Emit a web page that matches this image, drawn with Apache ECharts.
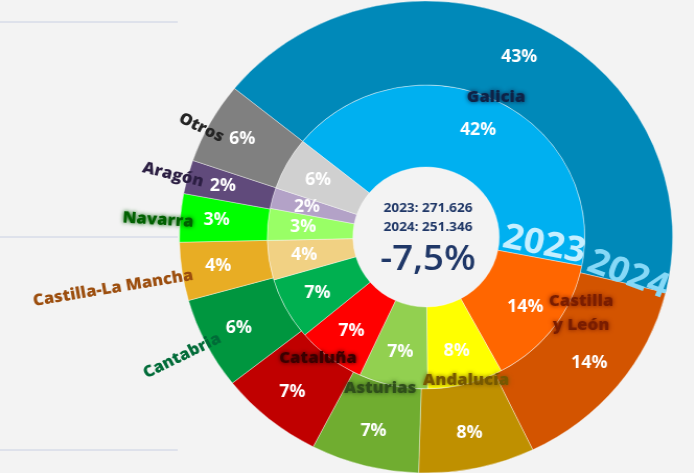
<!DOCTYPE html>
<html><head><meta charset="utf-8">
<style>html,body{margin:0;padding:0;background:#f3f3f3;overflow:hidden}
#wrap{width:694px;height:473px;overflow:hidden}
#c{width:664px;height:473px;transform:scaleX(1.045);transform-origin:0 0}</style>
<script src="https://cdn.jsdelivr.net/npm/echarts@6/dist/echarts.min.js"></script>
</head><body><div id="wrap"><div id="c"></div></div>
<script>
// ---- data ----
const regions = ['Galicia','Castilla y León','Andalucía','Asturias','Cataluña','Cantabria','Castilla-La Mancha','Navarra','Aragón','Otros'];
const regionLabels = ['Galicia','Castilla\ny León','Andalucía','Asturias','Cataluña','Cantabria','Castilla-La Mancha','Navarra','Aragón','Otros'];
const values2023 = [114.6, 38.3, 20.9, 19.0, 19.0, 17.9, 11.4, 9.2, 6.0, 15.2];
const values2024 = [107.9, 35.4, 19.1, 17.8, 17.1, 15.8, 10.0, 8.3, 5.8, 14.0];
const centerLines = ['2023: 271.626', '2024: 251.346'];
const changeText = '-7,5%';
const yearNames = ['2023', '2024'];

// ---- styles ----
const colors2023 = ['#00b0f0','#ff6600','#ffff00','#92d050','#ff0000','#00b050','#f1d183','#99ff66','#b3a2c7','#d0d0d0'];
const colors2024 = ['#0089b9','#d35400','#bf9000','#70ad30','#c00000','#00963f','#e8ad24','#00ff00','#604a7b','#808080'];
const nameColors = ['#0f2246','#7a1d00','#765800','#2f4f1a','#3a0000','#006b38','#9c4e0e','#006000','#2b1e42','#242424'];
// [radius, angle offset (deg), radial rotation, glow]
const namePlace = [[155.2,0.7,false,true],[166.7,11.9,false,true],[148,3.05,false,true],[157.3,-1.7,false,true],[159.1,-1.0,false,true],
                   [262,0.1,true,false],[303.8,1.3,true,false],[257,0.9,true,true],[250,0.4,true,false],[241.3,2.05,true,false]];
const CX = 407.7, CY = 237, START = 141;
const R_HOLE = 70, R_MID = 152, R_OUT = 236, LABEL_SHIFT = 8;
const FONT = '"Open Sans", sans-serif';

const chart = echarts.init(document.getElementById('c'), null, {renderer:'canvas'});

function mk(vals, cols){ return regions.map((n,i)=>({name:n, value:vals[i], itemStyle:{color:cols[i]}})); }
const pctLabel = {show:true, position:'inside', formatter: p => Math.round(p.percent) + '%',
  color:'#fff', fontWeight:'bold', fontSize:17, fontFamily:FONT, textBorderWidth:0, textShadowBlur:0};

const tot24 = values2024.reduce((a,b)=>a+b,0);
let acc = 0;
const graphics = [];
regions.forEach((n,i)=>{
  const mid = START - (acc + values2024[i]/2)/tot24*360;
  acc += values2024[i];
  const [r, off, radial, glow] = namePlace[i];
  let a = mid + off;
  while (a > 180) a -= 360; while (a <= -180) a += 360;
  const rad = a*Math.PI/180;
  let rot = 0;
  if (radial) rot = a > 90 ? a - 180 : (a < -90 ? a + 180 : a);
  graphics.push({type:'text', x: CX + r*Math.cos(rad), y: CY - r*Math.sin(rad), rotation: rot*Math.PI/180, z: 100,
    style:{text: regionLabels[i], fill: nameColors[i], font:'800 16px ' + FONT, align:'center', verticalAlign:'middle',
      lineHeight: 24, textShadowColor: glow ? nameColors[i] : 'transparent', textShadowBlur: glow ? 4 : 0}});
});
[22, 237, 450].forEach(y => graphics.push({type:'line', z:-1, shape:{x1:0,y1:y,x2:170,y2:y}, style:{stroke:'#c9d0e3', lineWidth:1}}));
graphics.push({type:'text', x:520.6, y:245, rotation:-11.5*Math.PI/180, z:100, style:{text:yearNames[0], fill:'#c6efff', font:'bold 35px ' + FONT, align:'center', verticalAlign:'middle'}});
graphics.push({type:'text', x:601, y:275, rotation:-20.8*Math.PI/180, z:100, style:{text:yearNames[1], fill:'#86d9f7', font:'bold 35px ' + FONT, align:'center', verticalAlign:'middle'}});
graphics.push({type:'text', x:409.6, y:208, z:100, style:{text:centerLines[0], fill:'#1f3767', font:'bold 13px ' + FONT, align:'center', verticalAlign:'middle'}});
graphics.push({type:'text', x:409.6, y:227, z:100, style:{text:centerLines[1], fill:'#1f3767', font:'bold 13px ' + FONT, align:'center', verticalAlign:'middle'}});
graphics.push({type:'text', x:409.6, y:260, z:100, style:{text:changeText, fill:'#1f3767', font:'600 35px ' + FONT, align:'center', verticalAlign:'middle'}});

const base = {type:'pie', center:[CX, CY], startAngle: START, clockwise:true, avoidLabelOverlap:false, silent:true,
  labelLine:{show:false}, emphasis:{disabled:true}};
const ringStyle = {itemStyle:{borderColor:'rgba(255,255,255,0.55)', borderWidth:0.7}, label:{show:false}};
const labelStyle = {itemStyle:{color:'transparent', borderWidth:0}, label: pctLabel, z: 5};

chart.setOption({
  backgroundColor:'#f3f3f3',
  animation:false,
  series:[
    Object.assign({}, base, ringStyle, {name:yearNames[0], radius:[R_HOLE, R_MID], data: mk(values2023, colors2023)}),
    Object.assign({}, base, ringStyle, {name:yearNames[1], radius:[R_MID, R_OUT], data: mk(values2024, colors2024)}),
    Object.assign({}, base, labelStyle, {name:yearNames[0] + ' %', radius:[R_HOLE + LABEL_SHIFT, R_MID],
      data: regions.map((n,i)=>({name:n, value:values2023[i]}))}),
    Object.assign({}, base, labelStyle, {name:yearNames[1] + ' %', radius:[R_MID + LABEL_SHIFT, R_OUT],
      data: regions.map((n,i)=>({name:n, value:values2024[i]}))})
  ],
  graphic: graphics
});
</script></body></html>
